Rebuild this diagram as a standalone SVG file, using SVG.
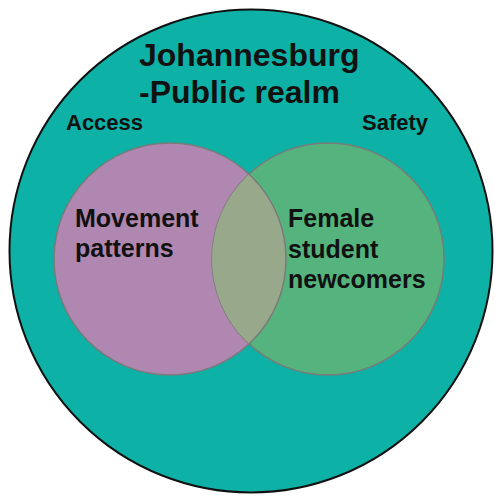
<svg xmlns="http://www.w3.org/2000/svg" width="494" height="497" viewBox="0 0 494 497">
<style>
.t{font-family:"Liberation Sans",Arial,sans-serif;font-weight:bold;fill:#111;}
.inner{stroke:#7a7a7a;stroke-width:1.5;}
</style>
<defs>
<clipPath id="cp"><circle cx="170" cy="259" r="116"/></clipPath>
<clipPath id="cp2"><circle cx="328" cy="259" r="116"/></clipPath>
</defs>
<rect width="494" height="497" fill="#ffffff"/>
<g id="outer">
<circle cx="251" cy="251" r="241.5" fill="#0DB1A6" stroke="#111" stroke-width="2"/>
<text class="t" x="139" y="66" font-size="32">Johannesburg</text>
<text class="t" x="139" y="103" font-size="32">-Public realm</text>
<text class="t" x="66" y="130" font-size="22">Access</text>
<text class="t" x="362" y="130" font-size="22">Safety</text>
</g>
<g id="access">
<circle class="inner" cx="170" cy="259" r="116" fill="#B087B0"/>
</g>
<g id="safety">
<circle class="inner" cx="328" cy="259" r="116" fill="#55B47D"/>
</g>
<g id="overlap">
<circle cx="328" cy="259" r="116" fill="#98A88B" clip-path="url(#cp)"/>
<circle cx="170" cy="259" r="116" fill="none" class="inner" clip-path="url(#cp2)"/>
</g>
<g id="labels">
<text class="t" x="75" y="227" font-size="25">Movement</text>
<text class="t" x="75" y="257" font-size="25">patterns</text>
<text class="t" x="288" y="227" font-size="25">Female</text>
<text class="t" x="288" y="258" font-size="25">student</text>
<text class="t" x="288" y="288" font-size="25">newcomers</text>
</g>
</svg>
